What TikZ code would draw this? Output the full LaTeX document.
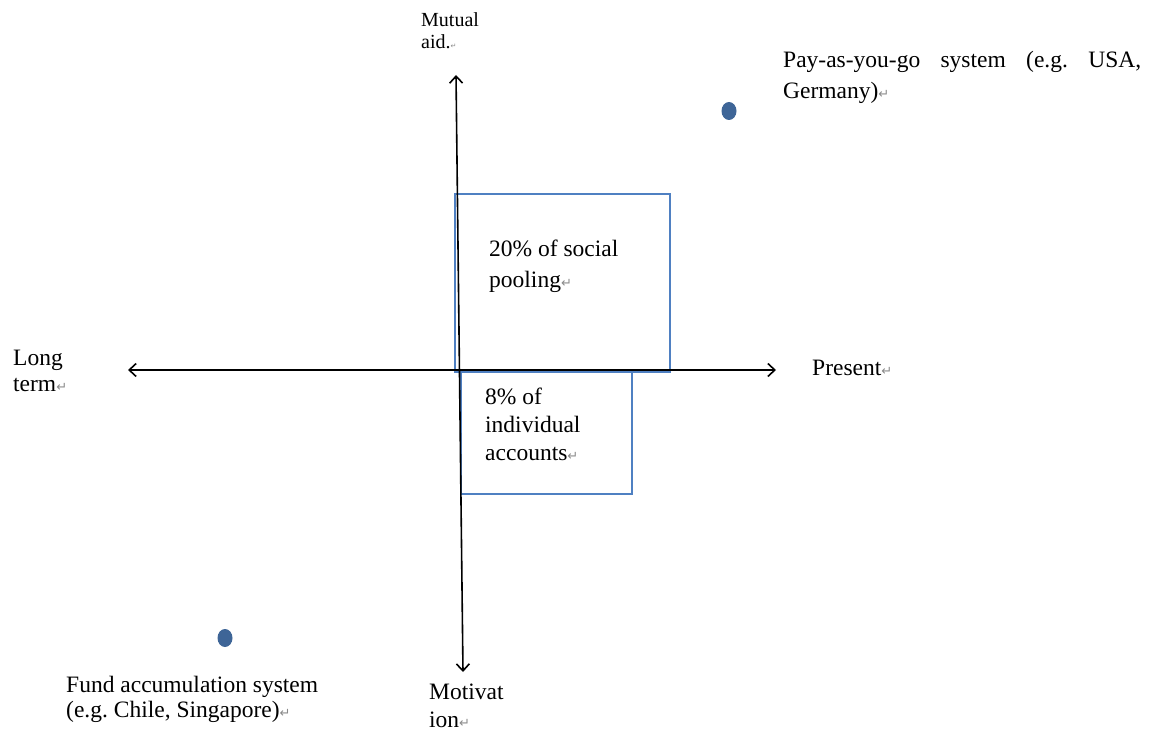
\documentclass[tikz,border=0pt]{standalone}
\usepackage{fontspec}
\setmainfont{Liberation Serif}
\newfontfamily\symfont{DejaVu Sans}
\usetikzlibrary{arrows.meta,shapes.geometric}
\definecolor{boxblue}{HTML}{4F80C2}
\definecolor{dotblue}{HTML}{3E6597}
\definecolor{markgray}{HTML}{8A8A8A}
\newcommand\retmark[1][13]{{\color{markgray}\symfont\fontsize{#1}{#1}\selectfont ↵}}
\frenchspacing
\tikzset{
  lbl/.style={anchor=north west, inner sep=0pt, align=left, font=\fontsize{23.5}{#1}\selectfont},
  lbl/.default=31,
  axisline/.style={line width=1.6pt, black, {Straight Barb[length=7pt,width=13pt,line width=1.6pt]}-{Straight Barb[length=7pt,width=13pt,line width=1.6pt]}},
  bluebox/.style={draw=boxblue, line width=1.8pt, anchor=north west, inner sep=0pt},
  dotmark/.style={ellipse, fill=dotblue, draw=none, minimum width=15pt, minimum height=18pt, inner sep=0pt},
}
\begin{document}
\begin{tikzpicture}[x=1pt,y=-1pt]
\useasboundingbox (0,0) rectangle (1152,738);
% boxes
\node[bluebox, minimum width=215pt, minimum height=178pt] (upbox) at (454,193) {};
\node[bluebox, minimum width=171pt, minimum height=123pt] (lowbox) at (460,370) {};
% axes
\coordinate (hl) at (128,370);
\coordinate (hr) at (776,370);
\coordinate (vt) at (456,75);
\coordinate (vb) at (463,672);
\draw[axisline] (hl) -- (hr);
\draw[axisline] (vt) -- (vb);
% dots
\node[dotmark] (paydot) at (729,111) {};
\node[dotmark] (funddot) at (225,638) {};
% labels
\node[lbl=22, font=\fontsize{20}{22}\selectfont] (mutual) at (421,10.6) {\strut Mutual\\aid.\retmark[7]};
\node[lbl=31, text width=358pt, align=justify] (pay) at (783,45.3) {\strut Pay-as-you-go system (e.g. USA, \mbox{Germany)}\retmark};
\node[lbl=26] (long) at (13,346.8) {\strut Long\\term\retmark};
\node[lbl=31] (present) at (812,353.3) {\strut Present\retmark};
\node[lbl=31] (social) at (489,234.3) {\strut 20\% of social\\pooling\retmark};
\node[lbl=28] (indiv) at (485,384.4) {\strut 8\% of\\individual\\accounts\retmark};
\node[lbl=25] (fund) at (66,674.5) {\strut Fund accumulation system\\(e.g. Chile, Singapore)\retmark};
\node[lbl=28] (motiv) at (429,679.4) {\strut Motivat\\ion\retmark};
\end{tikzpicture}
\end{document}
